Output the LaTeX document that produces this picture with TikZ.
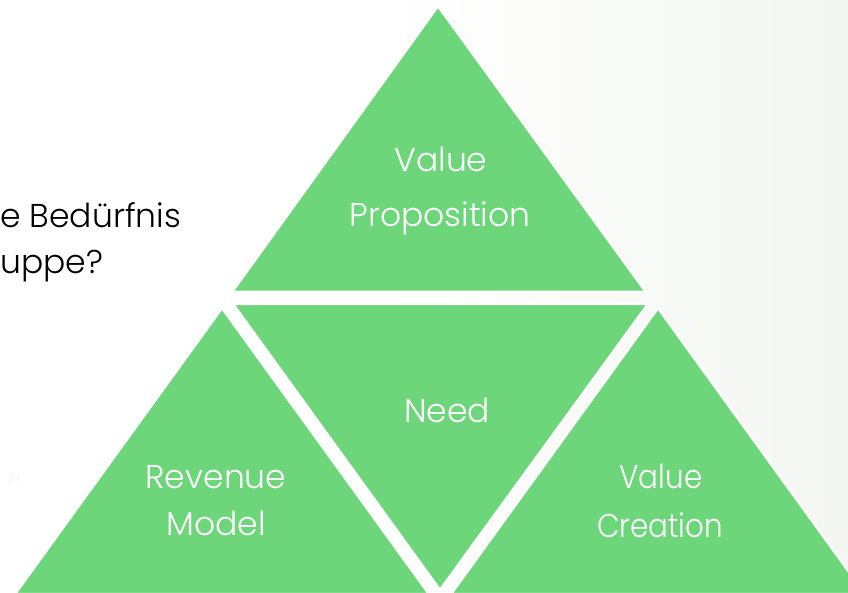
\documentclass[tikz,border=0pt]{standalone}
\usepackage{fontspec}
\setmainfont{Poppins}[UprightFont=* Light]
\definecolor{tgreen}{RGB}{110,214,122}
\definecolor{bgright}{RGB}{243,246,241}
\begin{document}
\begin{tikzpicture}[x=1pt,y=-1pt,
  tri/.style={fill=tgreen,draw=white,line width=2.5pt,line join=miter},
  lbl/.style={text=white,font=\fontsize{33}{33}\selectfont,anchor=base,inner sep=0pt},
  side/.style={text=black,font=\fontsize{33}{33}\selectfont,anchor=base west,inner sep=0pt}]
\useasboundingbox (0,0) rectangle (848,593);
\fill[white] (0,0) rectangle (380,593);
\shade[left color=white,right color=bgright] (380,0) rectangle (848,593);
% triangles
\coordinate (ta) at (438,6);
\coordinate (tl) at (232,292);
\coordinate (tr) at (646,292);
\coordinate (ml) at (233,304);
\coordinate (mr) at (648,304);
\coordinate (mb) at (440,590);
\coordinate (la) at (222,308);
\coordinate (ll) at (15,594);
\coordinate (lr) at (429,594);
\coordinate (ra) at (658,308);
\coordinate (rl) at (451,594);
\coordinate (rr) at (865,594);
\draw[tri] (ta) -- (tr) -- (tl) -- cycle;
\draw[tri] (ml) -- (mr) -- (mb) -- cycle;
\draw[tri] (la) -- (lr) -- (ll) -- cycle;
\draw[tri] (ra) -- (rr) -- (rl) -- cycle;
% labels
\node[lbl] (vp1) at (441,172) {Value};
\node[lbl] (vp2) at (440,227) {Proposition};
\node[lbl] (nd) at (447,422) {Need};
\node[lbl] (rm1) at (216,488) {Revenue};
\node[lbl] (rm2) at (216,535) {Model};
\node[lbl,xscale=0.89] (vc1) at (661,488) {Value};
\node[lbl,xscale=0.89] (vc2) at (660,537) {Creation};
% side text
\node[side] (s1) at (0,228) {e Bedürfnis};
\node[side] (s2) at (0,274) {uppe?};
\node[text=black!3,font=\fontsize{20}{20}\selectfont,anchor=base west,inner sep=0pt] (s3) at (8,485) {n};
\end{tikzpicture}
\end{document}
